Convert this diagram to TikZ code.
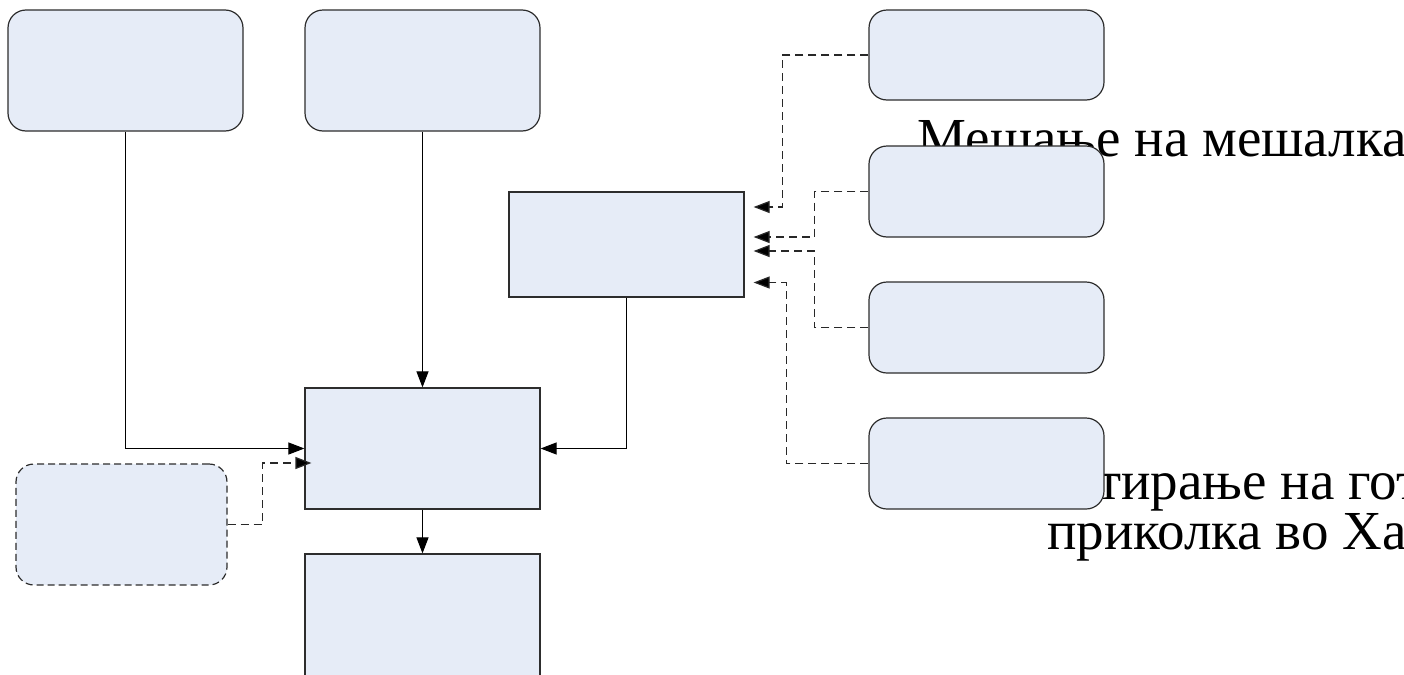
\documentclass[tikz,border=0pt]{standalone}
\usepackage{fontspec}
\setmainfont{Liberation Serif}
\usetikzlibrary{arrows.meta,calc}
\definecolor{boxfill}{RGB}{230,236,247}
\definecolor{boxline}{RGB}{45,45,45}
\definecolor{dashline}{RGB}{40,40,40}
\tikzset{
  rbox/.style={draw=boxline, fill=boxfill, line width=0.6pt, rounded corners=9pt, inner sep=0pt},
  sbox/.style={draw=boxline, fill=boxfill, line width=0.6pt, inner sep=0pt},
  dbox/.style={rbox, dash pattern=on 3.5pt off 2pt},
  conn/.style={draw=black, line width=0.55pt, -{Triangle[length=8pt,width=6pt]}},
  dconn/.style={draw=dashline, line width=0.6pt, dash pattern=on 4pt off 2.5pt, -{Triangle[length=8pt,width=6pt,fill=black]}},
  bigtext/.style={inner sep=0pt, anchor=base west, font=\fontsize{27.5}{27.5}\selectfont}
}
\begin{document}
\begin{tikzpicture}[x=0.5pt,y=-0.5pt]
\useasboundingbox (0,0) rectangle (1404,675);
\clip (0,0) rectangle (1404,675);
% texts (behind boxes)
\node[bigtext] (t1) at (917,156) {Мешање на мешалка};
\node[bigtext] (t2) at (1097,499) {тирање на гот};
\node[bigtext] (t3) at (1047,549) {приколка во Ха};
% boxes
\node[rbox, minimum width=117.5pt, minimum height=60.5pt] (A) at (125.5,70.5) {};
\node[rbox, minimum width=117.5pt, minimum height=60.5pt] (B) at (422.5,70.5) {};
\node[sbox, minimum width=117.5pt, minimum height=52.5pt] (C) at (626.5,244.5) {};
\node[sbox, minimum width=117.5pt, minimum height=60.5pt] (D) at (422.5,448.5) {};
\node[sbox, minimum width=117.5pt, minimum height=68pt] (E) at (422.5,622) {};
\node[dbox, minimum width=105.5pt, minimum height=60.5pt] (F) at (121.5,524.5) {};
\node[rbox, minimum width=117.5pt, minimum height=45pt] (R1) at (986.5,55) {};
\node[rbox, minimum width=117.5pt, minimum height=45.5pt] (R2) at (986.5,191.5) {};
\node[rbox, minimum width=117.5pt, minimum height=45.5pt] (R3) at (986.5,327.5) {};
\node[rbox, minimum width=117.5pt, minimum height=45.5pt] (R4) at (986.5,463.5) {};
% solid connectors
\draw[conn] (A.south) |- (D.west);
\draw[conn] (B.south) -- (D.north);
\draw[conn] (C.south) |- (D.east);
\draw[conn] (D.south) -- (E.north);
% dashed connectors
\draw[dconn] (F.east) -- ++(35,0) |- ($(D.west)+(7,14.5)$);
\draw[dconn] (R1.west) -- ++(-86,0) |- ($(C.east)+(9,-37.5)$);
\draw[dconn] (R2.west) -- ++(-54,0) |- ($(C.east)+(9,-7.5)$);
\draw[dconn] (R3.west) -- ++(-54,0) |- ($(C.east)+(9,6.5)$);
\draw[dconn] (R4.west) -- ++(-82,0) |- ($(C.east)+(9,38)$);
\end{tikzpicture}
\end{document}
